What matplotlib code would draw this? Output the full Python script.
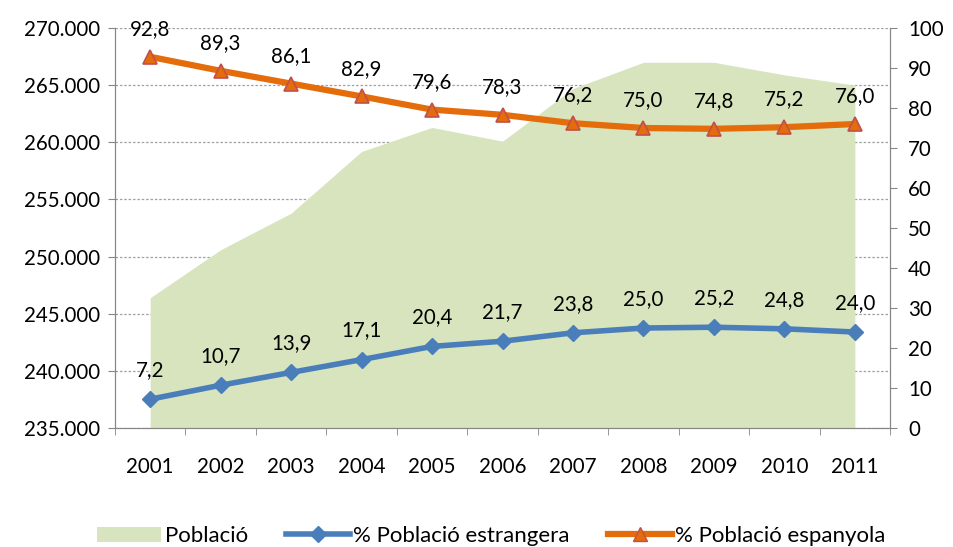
import numpy as np
import matplotlib.pyplot as plt
from matplotlib.lines import Line2D
from matplotlib.patches import Patch
from matplotlib.ticker import FuncFormatter

plt.rcParams['font.family'] = ['Lato', 'DejaVu Sans']

# dades
anys = ['2001', '2002', '2003', '2004', '2005', '2006', '2007', '2008', '2009', '2010', '2011']
poblacio = [246400, 250600, 253800, 259200, 261300, 260100, 264700, 267000, 267000, 265900, 265000]
pct_estrangera = [7.2, 10.7, 13.9, 17.1, 20.4, 21.7, 23.8, 25.0, 25.2, 24.8, 24.0]
pct_espanyola = [92.8, 89.3, 86.1, 82.9, 79.6, 78.3, 76.2, 75.0, 74.8, 75.2, 76.0]

GREEN = '#D7E4BD'
BLUE = '#4A7EBB'
ORANGE = '#E46C0A'
GRIS = '#868686'
FS = 14.8

fig = plt.figure(figsize=(9.54, 5.47), dpi=100)
ax = fig.add_axes([0.1205, 0.2175, 0.8125, 0.7313])
x = np.arange(len(anys))

ax.fill_between(x, 235000, poblacio, color=GREEN, lw=0, zorder=1)
ax.set_ylim(235000, 270000)
ax.set_yticks(np.arange(235000, 270001, 5000))
ax.yaxis.set_major_formatter(FuncFormatter(lambda v, p: f'{int(v):,}'.replace(',', '.')))
ax.set_xlim(-0.5, len(anys) - 0.5)
ax.set_xticks(x)
ax.set_xticklabels(anys)
ax.set_xticks(np.arange(-0.5, len(anys), 1), minor=True)
ax.tick_params(axis='x', which='major', length=0, pad=21, labelsize=FS)
ax.tick_params(axis='x', which='minor', length=5, color=GRIS)
ax.tick_params(axis='y', length=5, color=GRIS, labelsize=FS, pad=6)
ax.grid(axis='y', color='#A0A0A0', ls=(0, (2, 1.5)), lw=0.9, zorder=0)
ax.set_axisbelow(True)
for s in ['left', 'bottom', 'right']:
    ax.spines[s].set_color(GRIS)
ax.spines['top'].set_visible(False)

ax2 = ax.twinx()
ax2.set_ylim(0, 100)
ax2.set_yticks(np.arange(0, 101, 10))
ax2.tick_params(axis='y', length=5, color=GRIS, labelsize=FS, pad=8)
for s in ['left', 'bottom', 'right']:
    ax2.spines[s].set_color(GRIS)
ax2.spines['top'].set_visible(False)

ax2.plot(x, pct_estrangera, color=BLUE, lw=4, marker='D', ms=8,
         mfc=BLUE, mec=BLUE, zorder=3)
ax2.plot(x, pct_espanyola, color=ORANGE, lw=4.5, marker='^', ms=10,
         mfc=ORANGE, mec='#C0504D', mew=1.2, zorder=3)

for i in range(len(anys)):
    ax2.annotate(f'{pct_estrangera[i]:.1f}'.replace('.', ','), (x[i], pct_estrangera[i]),
                 xytext=(0, 21), textcoords='offset points', ha='center', va='center', fontsize=FS)
    ax2.annotate(f'{pct_espanyola[i]:.1f}'.replace('.', ','), (x[i], pct_espanyola[i]),
                 xytext=(0, 20), textcoords='offset points', ha='center', va='center', fontsize=FS)

handles = [
    Patch(facecolor=GREEN, edgecolor='none'),
    Line2D([], [], color=BLUE, lw=4, marker='D', ms=8),
    Line2D([], [], color=ORANGE, lw=4.5, marker='^', ms=10, mec='#C0504D'),
]
labels = ['Població', '% Població estrangera', '% Població espanyola']
fig.legend(handles, labels, loc='center', bbox_to_anchor=(0.515, 0.02), ncol=3,
           frameon=False, fontsize=16, handlelength=2.9, handletextpad=0.15,
           columnspacing=1.7)

fig.savefig('out.png', dpi=100)
